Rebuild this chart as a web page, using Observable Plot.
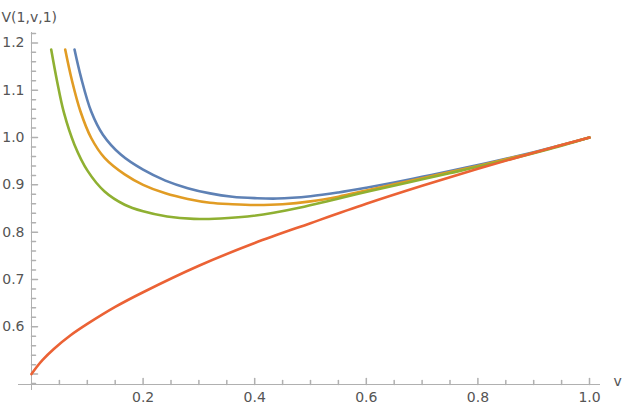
<!DOCTYPE html>
<html><head><meta charset="utf-8">
<script src="https://cdn.jsdelivr.net/npm/d3@7"></script>
<script src="https://cdn.jsdelivr.net/npm/@observablehq/plot@0.6"></script>
<style>body{margin:0;background:#fff}</style>
</head><body><div id="chart"></div>
<script>
// Series values (v, V(1,v,1))
const blueV = [0.0771, 0.089, 0.107, 0.128, 0.16, 0.20, 0.24, 0.28, 0.32, 0.36, 0.40, 0.44, 0.50, 0.55, 0.60, 0.65, 0.70, 0.75, 0.80, 0.85, 0.90, 0.95, 1.0];
const blueY = [1.186, 1.126, 1.055, 1.006, 0.964, 0.932, 0.909, 0.893, 0.882, 0.875, 0.872, 0.871, 0.876, 0.884, 0.894, 0.905, 0.917, 0.929, 0.942, 0.955, 0.969, 0.984, 1.0];

const orangeV = [0.0604, 0.0722, 0.0878, 0.107, 0.131, 0.167, 0.20, 0.24, 0.28, 0.32, 0.36, 0.40, 0.45, 0.50, 0.55, 0.60, 0.65, 0.70, 0.75, 0.80, 0.85, 0.90, 0.95, 1.0];
const orangeY = [1.186, 1.122, 1.055, 0.999, 0.957, 0.922, 0.900, 0.882, 0.870, 0.862, 0.859, 0.8575, 0.859, 0.865, 0.875, 0.888, 0.901, 0.914, 0.927, 0.940, 0.954, 0.968, 0.984, 1.0];

const greenV = [0.0353, 0.046, 0.058, 0.077, 0.1009, 0.131, 0.167, 0.20, 0.243, 0.291, 0.339, 0.387, 0.434, 0.482, 0.536, 0.607, 0.679, 0.751, 0.85, 0.92, 1.0];
const greenY = [1.186, 1.118, 1.053, 0.985, 0.929, 0.886, 0.858, 0.844, 0.833, 0.828, 0.829, 0.833, 0.841, 0.852, 0.867, 0.887, 0.906, 0.925, 0.952, 0.973, 1.0];

const redV = [0, 0.01, 0.02, 0.04, 0.07, 0.10, 0.15, 0.20, 0.30, 0.40, 0.50, 0.60, 0.70, 0.80, 0.90, 1.0];
const redY = [0.500, 0.516, 0.530, 0.553, 0.582, 0.606, 0.642, 0.673, 0.729, 0.777, 0.819, 0.860, 0.898, 0.934, 0.968, 1.0];

// Ticks and labels
const xMajorTicks = [0.2, 0.4, 0.6, 0.8, 1.0];
const xTickLabels = ["0.2", "0.4", "0.6", "0.8", "1.0"];
const yMajorTicks = [0.6, 0.7, 0.8, 0.9, 1.0, 1.1, 1.2];
const yTickLabels = ["0.6", "0.7", "0.8", "0.9", "1.0", "1.1", "1.2"];
const yUnlabeledMajor = [0.5];
const xMinorTicks = d3.range(1, 21).map(i => +(i * 0.05).toFixed(2)).filter(v => !xMajorTicks.some(m => Math.abs(m - v) < 1e-9));
const yMinorTicks = d3.range(24, 62).map(i => +(i * 0.02).toFixed(2)).filter(v => ![...yMajorTicks, ...yUnlabeledMajor].some(m => Math.abs(m - v) < 1e-9));

const series = [
  {name: "blue", v: blueV, y: blueY, color: "#5E81B5"},
  {name: "orange", v: orangeV, y: orangeY, color: "#E19C24"},
  {name: "green", v: greenV, y: greenY, color: "#8FB032"},
  {name: "red", v: redV, y: redY, color: "#EB6235"}
];

const axisColor = "#b0b0b0";
const labelColor = "#555555";
const tickShape = {draw(context, l) { context.moveTo(0, 0); context.lineTo(0, -l); }};

const lineMarks = series.map(s => Plot.line(s.v.map((v, i) => ({v, y: s.y[i]})), {
  x: "v", y: "y", stroke: s.color, strokeWidth: 2.6, curve: "catmull-rom"
}));

const chart = Plot.plot({
  width: 623, height: 412,
  marginLeft: 31, marginRight: 34, marginTop: 32, marginBottom: 28,
  style: {fontFamily: "DejaVu Sans", fontSize: "14px", background: "#fff"},
  x: {domain: [0, 1], axis: null},
  y: {domain: [0.478, 1.222], axis: null},
  marks: [
    // axis lines
    Plot.ruleY([0], {y: () => 0.478, stroke: axisColor, insetLeft: -13, insetRight: -11}),
    Plot.ruleX([0], {x: () => 0, stroke: axisColor, insetBottom: -6}),
    // x ticks (pointing up)
    Plot.vector(xMajorTicks, {x: d => d, frameAnchor: "bottom", length: 6, anchor: "start", rotate: 0, shape: tickShape, stroke: axisColor}),
    Plot.vector(xMinorTicks, {x: d => d, frameAnchor: "bottom", length: 4, anchor: "start", rotate: 0, shape: tickShape, stroke: axisColor}),
    // y ticks (pointing right)
    Plot.vector([...yMajorTicks, ...yUnlabeledMajor], {y: d => d, frameAnchor: "left", length: 6, anchor: "start", rotate: 90, shape: tickShape, stroke: axisColor}),
    Plot.vector(yMinorTicks, {y: d => d, frameAnchor: "left", length: 4, anchor: "start", rotate: 90, shape: tickShape, stroke: axisColor}),
    // tick labels
    Plot.text(xMajorTicks, {x: d => d, frameAnchor: "bottom", dy: 17, text: (d, i) => xTickLabels[i], fill: labelColor, fontSize: 14}),
    Plot.text(yMajorTicks, {y: d => d, frameAnchor: "left", dx: -7, textAnchor: "end", text: (d, i) => yTickLabels[i], fill: labelColor, fontSize: 14}),
    // axis titles
    Plot.text(["V(1,v,1)"], {frameAnchor: "top-left", dx: -30, dy: -20, textAnchor: "start", fill: labelColor, fontSize: 14}),
    Plot.text(["v"], {frameAnchor: "bottom-right", dx: 24, dy: 1, textAnchor: "start", fill: labelColor, fontSize: 14}),
    ...lineMarks
  ]
});
document.getElementById("chart").appendChild(chart);
</script>
</body></html>
